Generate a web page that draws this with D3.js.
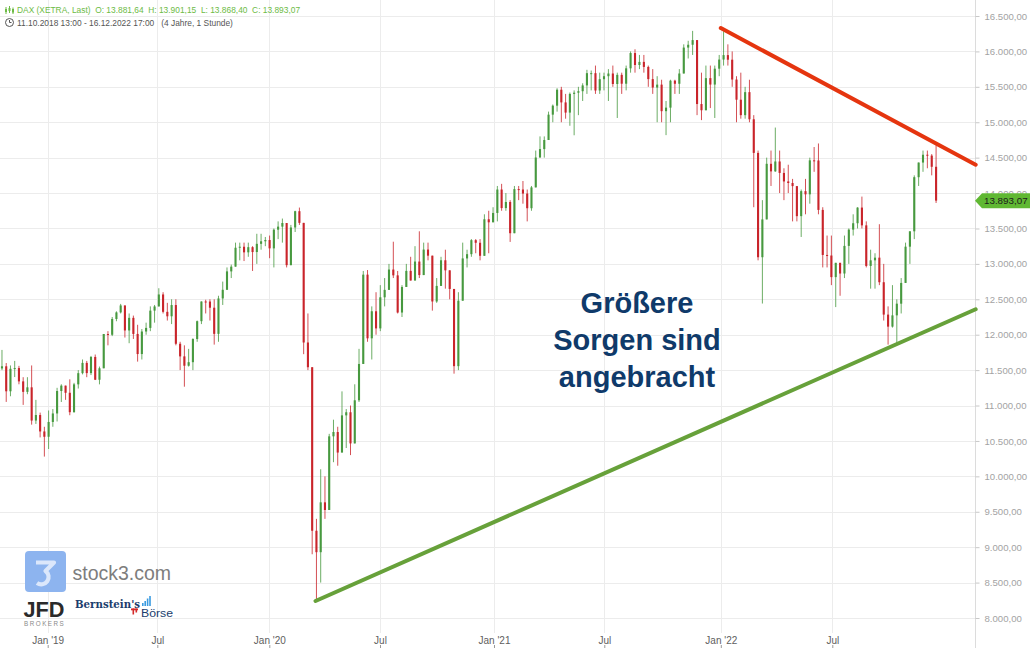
<!DOCTYPE html>
<html>
<head>
<meta charset="utf-8">
<script src="https://cdnjs.cloudflare.com/ajax/libs/d3/7.8.5/d3.min.js"></script>
<style>
  html, body { margin: 0; padding: 0; background: #ffffff; }
  svg { display: block; }
</style>
</head>
<body>
<svg id="chart" width="1030" height="648"></svg>
<script>
// ---------------- DATA (weekly OHLC, DAX XETRA) ----------------
const firstWeekMonday = "2018-10-08";
const dataStart = "2018-10-11";
const firstOpen = 11700;

// rows: [high, low, close] per week
const dax2018 = [
  [11750,11432,11524],[11785,11500,11554],[11600,11051,11201],[11566,11131,11519],
  [11630,11402,11529],[11560,11300,11341],[11400,11009,11193],[11400,11160,11257],
  [11566,10730,10788],[11080,10740,10866],[10900,10550,10634],[10700,10279,10559],
  [10930,10386,10768]
];
const dax2019 = [
  [10950,10700,10888],[11250,10775,11205],[11300,11050,11281],[11270,11080,11180],
  [11370,10863,10906],[11320,10900,11299],[11500,11240,11457],[11650,11440,11602],
  [11630,11400,11458],[11700,11430,11686],[11720,11360,11364],[11550,11299,11526],
  [12010,11560,12010],[12050,11850,11999],[12250,11980,12222],[12330,12190,12315],
  [12435,12300,12413],[12340,11960,12060],[12300,11880,12238],[12270,11940,12011],
  [12140,11620,11727],[12080,11650,12045],[12170,12000,12096],[12400,12050,12340],
  [12420,12170,12399],[12656,12500,12568],[12600,12300,12323],[12450,12200,12260],
  [12500,12150,12419],[12500,11850,11872],[11900,11500,11694],[11850,11266,11562],
  [11800,11550,11612],[11950,11500,11939],[12200,11900,12191],[12470,12150,12469],
  [12494,12300,12468],[12500,12200,12381],[12500,11860,12012],[12550,11900,12512],
  [12750,12420,12634],[12950,12700,12894],[12990,12800,12961],[13300,13000,13228],
  [13300,13050,13242],[13300,13040,13163],[13300,13100,13236],[13250,12900,13167],
  [13425,13000,13283],[13425,13200,13319],[13380,13250,13337],[13400,13080,13219]
];
const dax2020 = [
  [13500,12950,13483],[13600,13350,13526],[13640,13300,13577],[13450,12950,12982],
  [13550,12980,13514],[13750,13450,13744],[13795,13550,13579],[13300,11725,11890],
  [12300,11500,11541],[10900,8900,9232],[9400,8255,8929],[10100,8500,9633],
  [10000,9400,9525],[10600,9650,10565],[10800,10200,10626],[10700,10150,10336],
  [11200,10450,10861],[10950,10400,10905],[11000,10300,10465],[11300,10600,11074],
  [11800,11050,11587],[12900,11600,12848],[12913,11900,11949],[12400,11650,12331],
  [12600,12000,12089],[12700,12050,12528],[12800,12400,12633],[13000,12650,12920],
  [13313,12800,12838],[12900,12300,12313],[12700,12250,12674],[13000,12700,12901],
  [13100,12800,12765],[13250,12850,13033],[13460,12800,12842],[13300,12850,13202],
  [13300,13050,13116],[13100,12340,12469],[12800,12450,12689],[13100,12700,13051],
  [13200,12650,12909],[12900,12500,12646],[12600,11450,11556],[12600,11500,12480],
  [13300,12750,13077],[13200,12950,13137],[13350,13100,13335],[13350,13150,13298],
  [13350,13050,13114],[13700,13150,13630],[13750,13150,13587],[13800,13600,13719]
];
const dax2021 = [
  [14100,13600,14050],[14130,13750,13788],[14000,13750,13874],[13900,13310,13433],
  [14100,13450,14056],[14100,13900,14050],[14170,13850,13993],[14050,13600,13786],
  [14100,13750,14080],[14600,14080,14502],[14800,14500,14621],[14800,14500,14749],
  [15150,14850,15107],[15250,15000,15234],[15480,15150,15459],[15500,15000,15280],
  [15400,15050,15136],[15420,14950,15400],[15450,14816,15417],[15500,15100,15438],
  [15550,15300,15520],[15740,15400,15693],[15730,15450,15693],[15800,15400,15448],
  [15700,15400,15608],[15700,15450,15650],[15750,15300,15688],[15800,15500,15540],
  [15700,15060,15669],[15700,15400,15544],[15800,15450,15761],[16000,15700,15977],
  [16030,15700,15808],[15950,15750,15852],[15950,15700,15781],[15800,15500,15609],
  [15750,15400,15490],[15650,15000,15531],[15600,15000,15156],[15300,14818,15206],
  [15600,15000,15587],[15600,15400,15543],[15750,15400,15688],[16100,15700,16054],
  [16150,15900,16094],[16290,15950,16160],[16150,15100,15257],[15700,15030,15169],
  [15800,15200,15623],[15800,15200,15532],[15800,15060,15756],[15950,15650,15885]
];
const dax2022 = [
  [16285,15800,15948],[16100,15800,15883],[16000,15500,15603],[15650,15000,15318],
  [15700,15050,15100],[15500,15050,15425],[15600,15000,15042],[15100,13800,14567],
  [14600,13050,13094],[13900,12440,13628],[14500,13650,14413],[14600,14100,14306],
  [14925,14300,14446],[14600,14000,14284],[14350,13900,14164],[14400,14000,14142],
  [14200,13600,14098],[14100,13600,13674],[14050,13380,14027],[14200,13700,13982],
  [14500,13850,14462],[14650,14300,14460],[14700,13700,13762],[13800,12950,13126],
  [13400,12950,13118],[13400,12700,12813],[13000,12390,13015],[13000,12550,12864],
  [13400,12800,13254],[13500,13000,13484],[13700,13400,13574],[13800,13500,13795],
  [13950,13500,13544],[13600,12950,12971],[13200,12650,13050],[13150,12650,13088],
  [13560,12700,12741],[13000,12200,12284],[12400,11860,12114],[12700,12100,12273],
  [12500,11860,12438],[12800,12300,12731],[13300,12750,13243],[13450,13000,13460],
  [14250,13350,14224],[14400,14100,14431],[14600,14300,14541],[14600,14350,14529],
  [14550,14250,14371],[14675,13860,13893]
];

const yTickValues = [8000,8500,9000,9500,10000,10500,11000,11500,12000,12500,13000,13500,14000,14500,15000,15500,16000,16500];
const xTickDates  = ["2019-01-01","2019-07-01","2020-01-01","2020-07-01","2021-01-01","2021-07-01","2022-01-01","2022-07-01"];
const xTickLabels = ["Jan '19","Jul","Jan '20","Jul","Jan '21","Jul","Jan '22","Jul"];

const lastPrice = 13893.07;
const headerLine1 = "DAX (XETRA, Last)  O: 13.881,64  H: 13.901,15  L: 13.868,40  C: 13.893,07";
const headerLine2 = "11.10.2018 13:00 - 16.12.2022 17:00   (4 Jahre, 1 Stunde)";
const noteLines = ["Größere", "Sorgen sind", "angebracht"];

const redTrend   = [["2022-01-01", 16330], ["2023-02-16", 14400]];
const greenTrend = [["2020-03-17", 8240],  ["2023-02-16", 12360]];

// ---------------- LAYOUT ----------------
const W = 1030, H = 648;
const plotRight = 975;
const svg = d3.select("#chart");
const de = d3.formatLocale({decimal: ",", thousands: ".", grouping: [3], currency: ["", " €"]});
const fmt = de.format(",.2f");

const parse = s => new Date(s + "T00:00:00Z");

// trading-time anchored time scale (positions of the month grid lines)
const x = d3.scaleUtc()
  .domain([...xTickDates, "2023-01-01"].map(parse))
  .range([47.7, 157.3, 269.3, 380, 494, 604.3, 720.8, 832.3, 947]);

const y = d3.scaleLinear().domain([8000, 16500]).range([618, 16]);

// ---------------- GRID ----------------
const grid = svg.append("g");
grid.selectAll("line.h").data(yTickValues).join("line")
  .attr("x1", 0).attr("x2", plotRight)
  .attr("y1", d => Math.round(y(d)) + 0.5).attr("y2", d => Math.round(y(d)) + 0.5)
  .attr("stroke", "#ececec").attr("stroke-width", 1);
grid.selectAll("line.v").data(xTickDates).join("line")
  .attr("x1", d => Math.round(x(parse(d))) + 0.5).attr("x2", d => Math.round(x(parse(d))) + 0.5)
  .attr("y1", 0).attr("y2", 633)
  .attr("stroke", "#ececec").attr("stroke-width", 1);

// ---------------- Y AXIS ----------------
const yAxis = d3.axisRight(y).tickValues(yTickValues).tickSize(4).tickPadding(5).tickFormat(fmt);
const gy = svg.append("g").attr("transform", `translate(${plotRight + 0.5},0)`).call(yAxis);
gy.select(".domain").attr("stroke", "#dcdcdc").attr("d", `M0,0V${H}`);
gy.selectAll(".tick line").attr("stroke", "#c8c8c8");
gy.selectAll(".tick text")
  .attr("fill", "#a3a3a3").attr("font-size", 9.6)
  .attr("font-family", "'Liberation Sans', Arial, sans-serif");

// ---------------- X AXIS ----------------
const xAxis = d3.axisBottom(x).tickValues(xTickDates.map(parse)).tickSize(0).tickPadding(0)
  .tickFormat((d, i) => xTickLabels[i]);
const gx = svg.append("g").attr("transform", `translate(0,634)`).call(xAxis);
gx.select(".domain").remove();
gx.selectAll(".tick text")
  .attr("y", 9.5).attr("dy", 0)
  .attr("fill", "#5e5e5e").attr("font-size", 10)
  .attr("font-family", "'Liberation Sans', Arial, sans-serif");
gx.selectAll(".tick").append("line")
  .attr("y1", 11).attr("y2", 14).attr("stroke", "#9a9a9a");

// ---------------- CANDLES ----------------
const rows = [].concat(dax2018, dax2019, dax2020, dax2021, dax2022);
const weekStart = parse(firstWeekMonday);
const startDate = new Date(dataStart + "T12:00:00Z");
let prevClose = firstOpen;
const candles = rows.map((r, i) => {
  const monday = d3.utcMonday.offset(weekStart, i);
  let center = d3.utcHour.offset(monday, 60);
  if (center < startDate) center = startDate;
  const o = prevClose, c = r[2];
  prevClose = c;
  return {date: center, o, h: Math.max(r[0], o, c), l: Math.min(r[1], o, c), c};
});

svg.append("clipPath").attr("id", "plotclip")
  .append("rect").attr("x", 0).attr("y", 0).attr("width", plotRight).attr("height", H);

const cg = svg.append("g").attr("clip-path", "url(#plotclip)");
const upCol = "#47993f", dnCol = "#c9242a";
const bw = 2.1;
const cs = cg.selectAll("g.c").data(candles).join("g");
cs.append("line")
  .attr("x1", d => x(d.date)).attr("x2", d => x(d.date))
  .attr("y1", d => y(d.h)).attr("y2", d => y(d.l))
  .attr("stroke", d => d.c >= d.o ? upCol : dnCol).attr("stroke-width", 1).attr("stroke-opacity", 0.8);
cs.append("rect")
  .attr("x", d => x(d.date) - bw / 2).attr("width", bw)
  .attr("y", d => y(Math.max(d.o, d.c)))
  .attr("height", d => Math.max(1, Math.abs(y(d.o) - y(d.c))))
  .attr("fill", d => d.c >= d.o ? upCol : dnCol);

// ---------------- TREND LINES ----------------
const line = d3.line().x(d => x(parse(d[0]))).y(d => y(d[1]));
svg.append("path").datum(greenTrend).attr("d", line)
  .attr("stroke", "#67a13a").attr("stroke-width", 4).attr("fill", "none").attr("stroke-linecap", "round");
svg.append("path").datum(redTrend).attr("d", line)
  .attr("stroke", "#e5350f").attr("stroke-width", 4).attr("fill", "none").attr("stroke-linecap", "round");

// ---------------- LAST PRICE LABEL ----------------
const ly = y(lastPrice);
svg.append("path")
  .attr("d", `M${plotRight},${ly} L${plotRight + 7},${ly - 7.5} H${W} V${ly + 7.5} H${plotRight + 7} Z`)
  .attr("fill", "#60b833");
svg.append("text").attr("x", plotRight + 9).attr("y", ly).attr("dy", "0.35em")
  .attr("fill", "#1c1c1c").attr("font-size", 9.8)
  .attr("font-family", "'Liberation Sans', Arial, sans-serif")
  .text(fmt(lastPrice));

// ---------------- HEADER ----------------
const hdr = svg.append("g").attr("font-family", "'Liberation Sans', Arial, sans-serif").attr("font-size", 8.4);
hdr.append("text").attr("x", 17).attr("y", 13).attr("fill", "#6dbb45")
  .style("white-space", "pre").text(headerLine1);
hdr.append("text").attr("x", 17).attr("y", 26).attr("fill", "#555").style("white-space", "pre").text(headerLine2);
// small candle icon
const ic = svg.append("g").attr("stroke", "#6dbb45").attr("stroke-width", 1);
[[6, 7, 14, 9, 12], [9.5, 6, 13, 8, 11], [13, 7.5, 14, 9, 12.5]].forEach(a => {
  ic.append("line").attr("x1", a[0]).attr("x2", a[0]).attr("y1", a[1]).attr("y2", a[2]);
  ic.append("rect").attr("x", a[0] - 1).attr("y", a[3]).attr("width", 2).attr("height", a[4] - a[3]).attr("fill", "#6dbb45").attr("stroke", "none");
});
// clock icon
const clk = svg.append("g").attr("stroke", "#555").attr("fill", "none").attr("stroke-width", 1);
clk.append("circle").attr("cx", 9.5).attr("cy", 22.5).attr("r", 4);
clk.append("path").attr("d", "M9.5 20 V22.5 H11.5");

// ---------------- NOTE TEXT ----------------
svg.append("g").selectAll("text").data(noteLines).join("text")
  .attr("x", 637).attr("y", (d, i) => 313 + i * 37)
  .attr("text-anchor", "middle")
  .attr("font-family", "'Liberation Sans', Arial, sans-serif")
  .attr("font-weight", "bold").attr("font-size", 29)
  .attr("fill", "#0f3a6a")
  .text(d => d);

// ---------------- LOGOS ----------------
const lg = svg.append("g");
lg.append("rect").attr("x", 25).attr("y", 551).attr("width", 41).attr("height", 41).attr("rx", 4).attr("fill", "#8db4ef");
lg.append("path").attr("d", "M36 562.5 H54 L45.5 571 A6.6 6.6 0 1 1 37 583")
  .attr("stroke", "#dbe7fb").attr("stroke-width", 4.2).attr("fill", "none").attr("stroke-linejoin", "round");
lg.append("text").attr("x", 72.5).attr("y", 580).attr("font-size", 19.5)
  .attr("font-family", "'Liberation Sans', Arial, sans-serif").attr("fill", "#7d7d7d").text("stock3.com");
lg.append("text").attr("x", 23.5).attr("y", 616.5).attr("font-size", 22).attr("font-weight", "bold")
  .attr("font-family", "'Liberation Sans', Arial, sans-serif").attr("fill", "#2a2a2a")
  .attr("textLength", 41).attr("lengthAdjust", "spacingAndGlyphs").text("JFD");
lg.append("text").attr("x", 24).attr("y", 626).attr("font-size", 6.3).attr("letter-spacing", 1.5)
  .attr("font-family", "'Liberation Sans', Arial, sans-serif").attr("fill", "#8a8a8a").text("BROKERS");
lg.append("text").attr("x", 75).attr("y", 607.5).attr("font-size", 11).attr("font-weight", "bold")
  .attr("font-family", "'DejaVu Serif', serif").attr("fill", "#1b3d6d")
  .attr("textLength", 65).attr("lengthAdjust", "spacingAndGlyphs").text("Bernstein's");
[[142, 3], [144.4, 5], [146.8, 7.5], [149.2, 10]].forEach(b => {
  lg.append("rect").attr("x", b[0]).attr("y", 606 - b[1]).attr("width", 1.6).attr("height", b[1]).attr("fill", "#3a9be0");
});
lg.append("rect").attr("x", 131).attr("y", 608.5).attr("width", 7).attr("height", 1.8).attr("fill", "#d42a2a");
lg.append("rect").attr("x", 132.5).attr("y", 608.5).attr("width", 1.6).attr("height", 6).attr("fill", "#d42a2a");
lg.append("rect").attr("x", 135.5).attr("y", 608.5).attr("width", 1.6).attr("height", 4).attr("fill", "#d42a2a");
lg.append("text").attr("x", 141).attr("y", 617).attr("font-size", 11.5)
  .attr("font-family", "'Liberation Sans', Arial, sans-serif").attr("fill", "#1b3d6d")
  .attr("textLength", 32).attr("lengthAdjust", "spacingAndGlyphs").text("Börse");
</script>
</body>
</html>
